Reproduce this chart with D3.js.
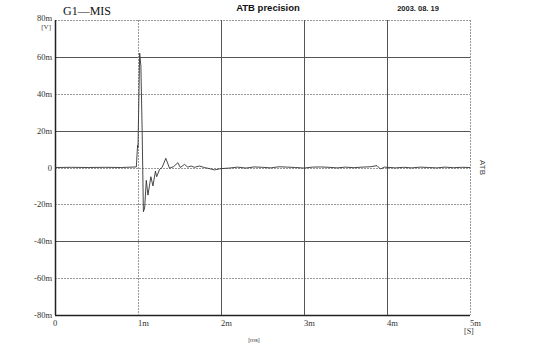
<!DOCTYPE html>
<html>
<head>
<meta charset="utf-8">
<script src="https://cdn.jsdelivr.net/npm/d3@7"></script>
<style>
  body { margin: 0; background: #fff; }
  svg { display: block; }
  .tick-lbl { font-family: "Liberation Serif", "DejaVu Serif", serif; font-size: 8.5px; fill: #333; }
</style>
</head>
<body>
<svg id="chart"></svg>
<script>
/* Data */
const yTicks = [80, 60, 40, 20, 0, -20, -40, -60, -80];
const yLabels = ["80m", "60m", "40m", "20m", "0", "-20m", "-40m", "-60m", "-80m"];
const xTicks = [0, 1, 2, 3, 4, 5];
const xLabels = ["0", "1m", "2m", "3m", "4m", "5m"];
/* grid style per tick: true = solid */
const yGridSolid = [false, true, false, true, false, false, true, false, true];
const xGridSolid = [true, false, true, true, true, false];

/* trace: time in ms, value in mV */
const timeMs = [0, 0.2, 0.4, 0.6, 0.8, 0.98, 0.995, 1.0, 1.02, 1.035, 1.05, 1.065, 1.08, 1.1, 1.12,
  1.155, 1.18, 1.21, 1.225, 1.26, 1.29, 1.335, 1.38, 1.43, 1.48, 1.51, 1.56, 1.6, 1.64, 1.68,
  1.74, 1.8, 1.86, 1.92, 2.0, 2.1, 2.2, 2.3, 2.4, 2.5, 2.6, 2.7, 2.8, 2.9, 3.0, 3.1, 3.2,
  3.3, 3.4, 3.5, 3.6, 3.7, 3.8, 3.88, 3.92, 3.97, 4.1, 4.2, 4.3, 4.4, 4.5, 4.6, 4.7, 4.8, 4.9, 5.0];
const valueMv = [0, 0.1, 0, 0.1, 0, 0.3, 12, 11, 62, 55, 20, -24, -22, -7, -15,
  -5, -10, -2, -5, -1, 0, 5, -0.4, 0.5, 2.6, 0, 1.7, 0.2, 0.8, 0.1,
  0.8, 0, -0.6, -1.3, -0.6, -0.3, 0.2, -0.3, 0.3, 0.1, -0.2, 0.4, 0.2, 0, -0.3, 0.2, 0.3,
  0.1, -0.2, 0.2, -0.1, 0.2, 0.4, 1.0, -0.8, 0.2, -0.2, 0.1, -0.2, 0.2, 0, -0.2, 0.2, -0.1, 0.1, 0];

/* Dimensions */
const width = 540, height = 352;
const margin = { top: 20, right: 70, bottom: 37, left: 55 };
const plotW = width - margin.left - margin.right;
const plotH = height - margin.top - margin.bottom;

const svg = d3.select("#chart").attr("width", width).attr("height", height);
const g = svg.append("g").attr("transform", `translate(${margin.left},${margin.top})`);

/* Scales */
const x = d3.scaleLinear().domain([0, 5]).range([0, plotW]);
const y = d3.scaleLinear().domain([-80, 80]).range([plotH, 0]);

/* Grid */
g.selectAll(".hgrid").data(yTicks).join("line")
  .attr("x1", 0).attr("x2", plotW)
  .attr("y1", d => Math.round(y(d)) + 0.5).attr("y2", d => Math.round(y(d)) + 0.5)
  .attr("stroke", (d, i) => i === yTicks.length - 1 ? "#222" : (yGridSolid[i] ? "#555" : "#999"))
  .attr("stroke-width", (d, i) => i === yTicks.length - 1 ? 1.5 : 1)
  .attr("stroke-dasharray", (d, i) => yGridSolid[i] ? null : "2,1");

g.selectAll(".vgrid").data(xTicks).join("line")
  .attr("y1", 0).attr("y2", plotH)
  .attr("x1", d => Math.round(x(d)) + 0.5).attr("x2", d => Math.round(x(d)) + 0.5)
  .attr("stroke", (d, i) => i === 0 ? "#222" : (xGridSolid[i] ? "#555" : "#999"))
  .attr("stroke-width", (d, i) => i === 0 ? 1.5 : 1)
  .attr("stroke-dasharray", (d, i) => xGridSolid[i] ? null : "2,1");

/* Trace */
const line = d3.line().x(d => x(d[0])).y(d => y(d[1]));
g.append("path")
  .datum(d3.zip(timeMs, valueMv))
  .attr("d", line)
  .attr("fill", "none")
  .attr("stroke", "#333")
  .attr("stroke-width", 0.9);

/* Tick labels */
g.selectAll(".ylbl").data(yTicks).join("text")
  .attr("class", "tick-lbl")
  .attr("x", -3).attr("y", d => d === 80 ? y(d) + 1 : y(d) + 3)
  .attr("text-anchor", "end")
  .text((d, i) => yLabels[i]);

g.selectAll(".xlbl").data(xTicks).join("text")
  .attr("class", "tick-lbl")
  .attr("x", d => x(d))
  .attr("y", plotH + 11)
  .attr("text-anchor", d => d === 0 ? "middle" : "start")
  .text((d, i) => xLabels[i]);

/* Units */
g.append("text").attr("class", "tick-lbl")
  .attr("x", -4).attr("y", 9).attr("text-anchor", "end").style("font-size", "7px").text("[V]");
g.append("text").attr("class", "tick-lbl")
  .attr("x", plotW - 6).attr("y", plotH + 19).style("font-size", "8px").text("[S]");
svg.append("text")
  .attr("x", 254).attr("y", 342).attr("text-anchor", "middle")
  .style("font-family", "Liberation Sans, Arial, sans-serif").style("font-size", "6px").attr("fill", "#444")
  .text("[ms]");

/* Titles */
svg.append("text")
  .attr("x", 63).attr("y", 15)
  .style("font-family", "Liberation Serif, DejaVu Serif, serif").style("font-size", "12px")
  .attr("fill", "#111")
  .text("G1\u2014MIS");

svg.append("text")
  .attr("x", 268).attr("y", 11).attr("text-anchor", "middle")
  .style("font-family", "Liberation Sans, Arial, sans-serif").style("font-size", "9.5px").style("font-weight", "bold")
  .attr("fill", "#111")
  .text("ATB precision");

svg.append("text")
  .attr("x", 418).attr("y", 11).attr("text-anchor", "middle")
  .style("font-family", "Liberation Sans, Arial, sans-serif").style("font-size", "7.5px").style("font-weight", "bold")
  .attr("fill", "#222")
  .text("2003. 08. 19");

svg.append("text")
  .attr("transform", `translate(480, ${margin.top + y(0)}) rotate(90)`)
  .attr("text-anchor", "middle")
  .style("font-family", "Liberation Sans, Arial, sans-serif").style("font-size", "8px")
  .attr("fill", "#444")
  .text("ATB");
</script>
</body>
</html>
